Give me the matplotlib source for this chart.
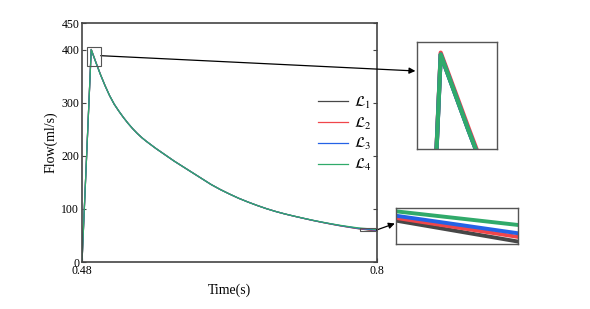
import matplotlib
matplotlib.use('Agg')
import matplotlib.pyplot as plt
from matplotlib.patches import Rectangle

plt.rcParams['font.family'] = ['Liberation Serif', 'DejaVu Serif']
plt.rcParams['mathtext.fontset'] = 'stix'

# time axis (s)
time = [0.48, 0.49, 0.495, 0.50, 0.505, 0.51, 0.515, 0.52, 0.525, 0.53, 0.535,
        0.54, 0.545, 0.55, 0.56, 0.57, 0.58, 0.59, 0.60, 0.61, 0.62, 0.63,
        0.64, 0.65, 0.66, 0.67, 0.68, 0.69, 0.70, 0.71, 0.72, 0.73, 0.74,
        0.75, 0.76, 0.77, 0.78, 0.79, 0.80]

# flow (ml/s) for each model
flowL1 = [0, 400, 376, 353, 332, 313, 297, 284, 272, 261, 251,
          242, 234, 227, 214, 202, 190, 179, 168, 157, 146, 136.5,
          128, 120, 113, 106.5, 100.5, 95.2, 90.5, 86.3, 82.3, 78.4, 74.8,
          71.4, 68.2, 65.3, 62.6, 60.45, 58.3]
flowL2 = [0, 400.6, 376.8, 353.5, 332.3, 313, 297, 284, 272, 261, 251,
          242, 234, 227, 214, 202, 190, 179, 168, 157, 146, 136.5,
          128, 120, 113, 106.5, 100.5, 95.2, 90.5, 86.33, 82.38, 78.51, 74.95,
          71.6, 68.48, 65.66, 63.07, 61.12, 59.17]
flowL3 = [0, 400, 376, 353, 332, 313, 297, 284, 272, 261, 251,
          242, 234, 227, 214, 202, 190, 179, 168, 157, 146, 136.5,
          128, 120, 113, 106.5, 100.5, 95.2, 90.55, 86.4, 82.45, 78.62, 75.1,
          71.8, 68.7, 65.95, 63.45, 61.65, 59.85]
flowL4 = [0, 400, 376, 353, 332, 313, 297, 284, 272, 261, 251,
          242, 234, 227, 214, 202, 190, 179, 168, 157, 146, 136.5,
          128, 120, 113, 106.5, 100.5, 95.25, 90.6, 86.5, 82.6, 78.82, 75.35,
          72.1, 69.15, 66.55, 64.2, 62.8, 61.4]

labels = [r'$\mathcal{L}_1$', r'$\mathcal{L}_2$', r'$\mathcal{L}_3$', r'$\mathcal{L}_4$']
colors = ['#474747', '#f0464a', '#2462e6', '#30aa6a']
series = [flowL1, flowL2, flowL3, flowL4]

yTicks = [0, 100, 200, 300, 400, 450]
xTicks = [0.48, 0.8]
xTickLabels = ['0.48', '0.8']

# zoom windows
peakX = (0.4857, 0.5003)
peakY = (370, 404)
endX = (0.7815, 0.7995)
endY = (57.97, 64.55)

spineColor = '#444444'

fig = plt.figure(figsize=(5.9, 3.09), dpi=100)
ax = fig.add_axes([0.139, 0.152, 0.5, 0.7735])
for s, c, l in zip(series, colors, labels):
    ax.plot(time, s, color=c, lw=0.9, label=l)
ax.set_xlim(0.48, 0.8)
ax.set_ylim(0, 450)
ax.set_xticks(xTicks)
ax.set_xticklabels(xTickLabels)
ax.set_yticks(yTicks)
ax.tick_params(direction='in', length=3, labelsize=8.5, pad=2,
               right=True, color=spineColor)
for sp in ax.spines.values():
    sp.set_color(spineColor)
    sp.set_linewidth(1.2)
ax.set_xlabel('Time(s)', fontsize=10, labelpad=5)
ax.set_ylabel('Flow(ml/s)', fontsize=10, labelpad=3)

leg = ax.legend(loc='center left', bbox_to_anchor=(0.753, 0.536), frameon=False,
                fontsize=11, handlelength=2.0, handletextpad=0.35, labelspacing=0.3)

# rectangles marking zoom regions
for xr, yr in [(peakX, peakY), (endX, endY)]:
    ax.add_patch(Rectangle((xr[0], yr[0]), xr[1] - xr[0], yr[1] - yr[0],
                           fill=False, ec='#555555', lw=0.8, clip_on=False, zorder=5))

# inset 1: peak
ins1 = fig.add_axes([0.7068, 0.5194, 0.1364, 0.3447])
for s, c in zip(series, colors):
    ins1.plot(time, s, color=c, lw=3)
ins1.set_xlim(*peakX)
ins1.set_ylim(*peakY)

# inset 2: end of curve
ins2 = fig.add_axes([0.6712, 0.2104, 0.2073, 0.1155])
for s, c in zip(series, colors):
    ins2.plot(time, s, color=c, lw=2.8)
ins2.set_xlim(*endX)
ins2.set_ylim(*endY)

for ins in (ins1, ins2):
    ins.set_xticks([])
    ins.set_yticks([])
    for sp in ins.spines.values():
        sp.set_color('#555555')
        sp.set_linewidth(1.0)

arrow = dict(arrowstyle='-|>', color='black', lw=0.9, mutation_scale=9,
             shrinkA=0, shrinkB=0)
ax.annotate('', xy=(-0.02, 0.728), xycoords=ins1.transAxes,
            xytext=(peakX[1], 388.5), textcoords='data', arrowprops=arrow)
ax.annotate('', xy=(-0.01, 0.574), xycoords=ins2.transAxes,
            xytext=(endX[1], 60.3), textcoords='data', arrowprops=arrow)

fig.savefig('out.png', dpi=100)
